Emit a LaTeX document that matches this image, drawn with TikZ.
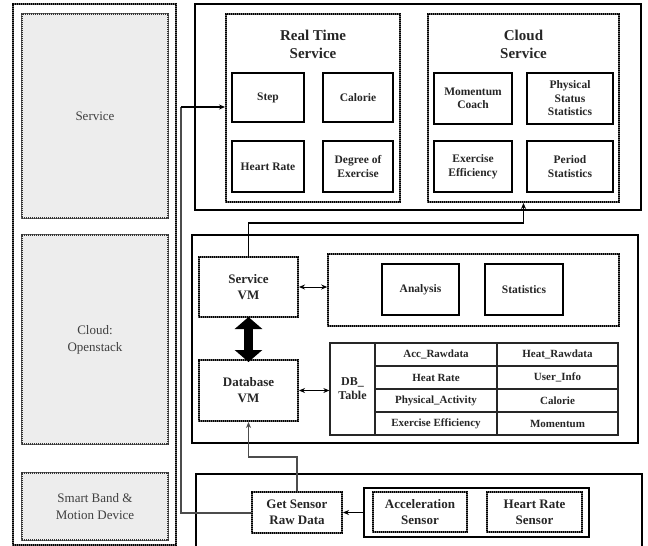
\documentclass[tikz,border=0pt]{standalone}
\usepackage{fontspec}
\setmainfont{Liberation Serif}
\usetikzlibrary{arrows.meta}
\begin{document}
\begin{tikzpicture}[x=1pt,y=-1pt,
  outerdash/.style={draw=black, line width=2.4pt, dash pattern=on 1.4pt off 0.6pt,
    preaction={draw=gray!80!black, line width=2.4pt, solid}},
  leftbox/.style={draw=black!80, line width=1.2pt, dash pattern=on 1.3pt off 0.7pt, fill=gray!14,
    preaction={draw=gray!75!black, line width=1.2pt, solid, fill=gray!14},
    font=\fontsize{13}{17}\selectfont, align=center, text=black!75, inner sep=0pt},
  frame/.style={draw=black, line width=1.4pt, inner sep=0pt},
  dbox/.style={draw=black, line width=2pt, dash pattern=on 1.4pt off 0.6pt, inner sep=0pt,
    preaction={draw=gray!80!black, line width=2pt, solid},
    font=\bfseries\fontsize{13}{16}\selectfont, align=center, text=black!85},
  sbox/.style={draw=black, line width=1.4pt, inner sep=0pt, font=\bfseries\fontsize{11.5}{13.5}\selectfont,
    align=center, text=black!85},
  head/.style={font=\bfseries\fontsize{15}{18}\selectfont, align=center, text=black!85},
  cell/.style={draw=black!85, line width=1.3pt, inner sep=0pt, minimum height=23pt,
    font=\bfseries\fontsize{11}{12}\selectfont, align=center, text=black!85},
  wire/.style={draw=black, line width=1.2pt},
  gwire/.style={draw=gray!60!black, line width=2pt},
  tip/.style={-{Stealth[length=6pt,width=5pt]}},
  tips/.style={{Stealth[length=6pt,width=5pt]}-{Stealth[length=6pt,width=5pt]}}
]
\useasboundingbox (0,0) rectangle (648,546);

% left column
\node[outerdash, minimum width=163pt, minimum height=541pt, inner sep=0pt] (leftcol) at (94.5,274.5) {};
\node[leftbox, minimum width=146pt, minimum height=204pt] (lserv) at (95,116) {Service};
\node[leftbox, minimum width=146pt, minimum height=209pt] (lcloud) at (95,339.5) {Cloud:\\Openstack};
\node[leftbox, minimum width=146pt, minimum height=67pt] (lband) at (95,506.5) {Smart Band \&\\Motion Device};

% frames
\node[frame, minimum width=446pt, minimum height=206pt] (topframe) at (418,107) {};
\node[frame, minimum width=446pt, minimum height=208pt] (midframe) at (415,339) {};
\draw[line width=1.4pt] (196,547) -- (196,474) -- (642,474) -- (642,547);

% real time service
\node[dbox, minimum width=174pt, minimum height=188pt] (rts) at (313,108) {};
\node[head] (rtsh) at (313,44) {Real Time\\Service};
\node[sbox, minimum width=72pt, minimum height=49pt] (step) at (268,97.5) {Step};
\node[sbox, minimum width=70pt, minimum height=49pt] (cal) at (358,97.5) {Calorie};
\node[sbox, minimum width=72pt, minimum height=51pt] (hr) at (268,166.5) {Heart Rate};
\node[sbox, minimum width=70pt, minimum height=51pt] (deg) at (358,166.5) {Degree of\\Exercise};

% cloud service
\node[dbox, minimum width=191pt, minimum height=188pt] (cs) at (523.5,108) {};
\node[head] (csh) at (523.5,44) {Cloud\\Service};
\node[sbox, minimum width=78pt, minimum height=51pt] (mc) at (473,98.5) {Momentum\\Coach};
\node[sbox, minimum width=86pt, minimum height=51pt] (pss) at (570,98.5) {Physical\\Status\\Statistics};
\node[sbox, minimum width=78pt, minimum height=51pt] (ee) at (473,166.5) {Exercise\\Efficiency};
\node[sbox, minimum width=86pt, minimum height=51pt] (ps) at (570,166.5) {Period\\Statistics};

% middle
\node[dbox, minimum width=99pt, minimum height=60pt] (svm) at (248.5,287) {Service\\VM};
\node[dbox, minimum width=99pt, minimum height=61pt] (dbvm) at (248.5,390.5) {Database\\VM};
\node[dbox, line width=1.6pt, preaction={draw=gray!80!black, line width=1.6pt, solid}, minimum width=291pt, minimum height=72pt] (cont) at (473.5,290) {};
\node[sbox, minimum width=77pt, minimum height=51pt] (ana) at (420.5,289.5) {Analysis};
\node[sbox, minimum width=78pt, minimum height=51pt] (stat) at (524,289.5) {Statistics};

% table
\node[cell, minimum width=45pt, minimum height=92pt, font=\bfseries\fontsize{12}{14}\selectfont] (dbt) at (352.5,389) {DB\_\\Table};
\node[cell, minimum width=122pt] (c11) at (436,354.5) {Acc\_Rawdata};
\node[cell, minimum width=121pt] (c12) at (557.5,354.5) {Heat\_Rawdata};
\node[cell, minimum width=122pt] (c21) at (436,377.5) {Heat Rate};
\node[cell, minimum width=121pt] (c22) at (557.5,377.5) {User\_Info};
\node[cell, minimum width=122pt] (c31) at (436,400.5) {Physical\_Activity};
\node[cell, minimum width=121pt] (c32) at (557.5,400.5) {Calorie};
\node[cell, minimum width=122pt] (c41) at (436,423.5) {Exercise Efficiency};
\node[cell, minimum width=121pt] (c42) at (557.5,423.5) {Momentum};

% bottom
\node[dbox, minimum width=90pt, minimum height=41pt] (gs) at (297,512.5) {Get Sensor\\Raw Data};
\node[frame, line width=1.8pt, minimum width=225pt, minimum height=49pt] (sc) at (476.5,512.5) {};
\node[dbox, minimum width=94pt, minimum height=40pt] (acc) at (420,512) {Acceleration\\Sensor};
\node[dbox, minimum width=95pt, minimum height=40pt] (hrs) at (534.5,512) {Heart Rate\\Sensor};

% connectors
\coordinate (lw1) at (181,512.5);
\coordinate (lw2) at (181,107);
\draw[gwire] (gs.west) -- (lw1) -- (lw2);
\draw[wire, tip] (lw2) -- (rts.west |- lw2);

\coordinate (k1) at (248.5,223);
\coordinate (k2) at (523.5,223);
\draw[wire, tip] (svm.north) -- (k1) -- (k2) -- (cs.south);

\draw[wire, line width=1pt, tips] (svm.east) -- (svm.east -| cont.west);
\draw[wire, line width=1pt, tips] (dbvm.east) -- (dbvm.east -| dbt.west);

\draw[line width=9pt, {Triangle[width=27pt,length=12pt]}-{Triangle[width=27pt,length=12pt]}]
  ([yshift=1pt]svm.south) -- ([yshift=-3pt]dbvm.north);

\coordinate (g1) at (297,457);
\coordinate (g2) at (248.5,457);
\draw[gwire, line width=1.6pt, tip] (gs.north) -- (g1) -- (g2) -- (dbvm.south);

\draw[wire, tip] (sc.west) -- (gs.east);
\end{tikzpicture}
\end{document}
